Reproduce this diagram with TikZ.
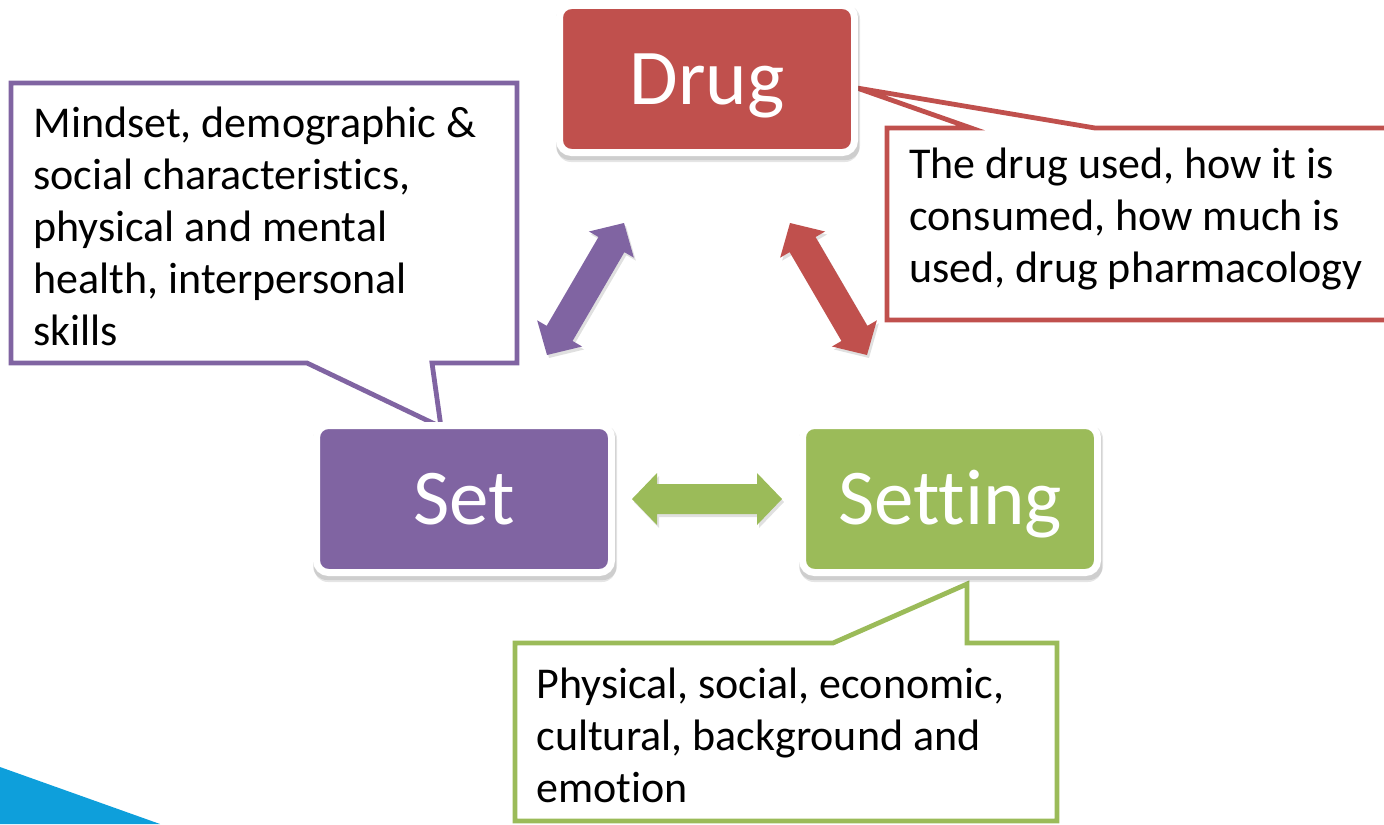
\documentclass[tikz,border=0pt]{standalone}
\usepackage{fontspec}
\setmainfont{Carlito}[Ligatures={NoCommon}]
\usetikzlibrary{calc}
\definecolor{cred}{HTML}{C0504D}
\definecolor{cpurple}{HTML}{8064A2}
\definecolor{cgreen}{HTML}{9BBB59}
\definecolor{cblue}{HTML}{0E9FDB}
\tikzset{
  box/.style={rounded corners=6pt, draw=white, line width=3.5pt, minimum width=147.5pt,
    minimum height=73.5pt, inner sep=0pt, text=white, font=\fontsize{39.5}{46}\selectfont,
    text height=25.4pt, text depth=0pt},
  boxshadow/.style={rounded corners=7pt, fill=black, opacity=0.10},
  callout/.style={line width=2.4pt, fill=white, line join=miter},
  ctext/.style={anchor=north west, inner sep=0pt, align=left, font=\fontsize{22}{26}\selectfont},
}
\newcommand{\dblarrow}[3]{%
\fill[#3] (#1) -- ($(#1)!12.5pt!(#2)!13pt!90:(#2)$) -- ($(#1)!12.5pt!(#2)!7.5pt!90:(#2)$)
 -- ($(#2)!12.5pt!(#1)!7.5pt!-90:(#1)$) -- ($(#2)!12.5pt!(#1)!13pt!-90:(#1)$) -- (#2)
 -- ($(#2)!12.5pt!(#1)!13pt!90:(#1)$) -- ($(#2)!12.5pt!(#1)!7.5pt!90:(#1)$)
 -- ($(#1)!12.5pt!(#2)!7.5pt!-90:(#2)$) -- ($(#1)!12.5pt!(#2)!13pt!-90:(#2)$) -- cycle;}
\begin{document}
\begin{tikzpicture}[x=0.5pt,y=-0.5pt]
\path[use as bounding box] (0,0) rectangle (1384,824);
\clip (0,0) rectangle (1384,824);
% box centres
\coordinate (cdrug) at (707,79);
\coordinate (cset) at (464,499);
\coordinate (csetting) at (950,499);
% blue corner shape
\fill[cblue] (0,767) -- (160,824) -- (0,824) -- cycle;
% callouts
\coordinate (tipset) at (441,427);
\coordinate (tipdrug) at (857,88);
\coordinate (tipsetting) at (967,584);
\draw[callout, draw=cpurple] (11,83) -- (517,83) -- (517,363) -- (432,363) -- (tipset)
  -- (307,363) -- (11,363) -- cycle;
\draw[callout, draw=cred] (887,128) -- (971,128) -- (tipdrug) -- (1095,128) -- (1400,128)
  -- (1400,320) -- (887,320) -- cycle;
\draw[callout, draw=cgreen] (515,643) -- (833,643) -- (tipsetting) -- (967,643) -- (1057,643)
  -- (1057,821) -- (515,821) -- cycle;
\node[ctext] (tset) at (33,103) {\rule{0pt}{17pt}Mindset, demographic \&\\social characteristics,\\physical and mental\\health, interpersonal\\skills};
\node[ctext] (tdrug) at (909,144) {\rule{0pt}{17pt}The drug used, how it is\\consumed, how much is\\used, drug pharmacology};
\node[ctext] (tsetting) at (536,664) {\rule{0pt}{17pt}Physical, social, economic,\\cultural, background and\\emotion};
% arrow end points
\coordinate (ga) at (632,499); \coordinate (gb) at (782,499);
\coordinate (pa) at (547,355); \coordinate (pb) at (624,223);
\coordinate (ra) at (790,223); \coordinate (rb) at (867,355);
% arrow shadows
\begin{scope}[transform canvas={shift={(1pt,-1.5pt)}}]
\dblarrow{ga}{gb}{black,opacity=0.12}
\dblarrow{pa}{pb}{black,opacity=0.12}
\dblarrow{ra}{rb}{black,opacity=0.12}
\end{scope}
\dblarrow{ga}{gb}{cgreen}
\dblarrow{pa}{pb}{cpurple}
\dblarrow{ra}{rb}{cred}
% box shadows
\foreach \c in {cdrug,cset,csetting}{
  \fill[boxshadow] ($(\c)+(-150,-73)$) rectangle ($(\c)+(152,83)$);
  \fill[boxshadow] ($(\c)+(-151,-74)$) rectangle ($(\c)+(153,81)$);
}
% boxes
\node[box, fill=cred] (drug) at (cdrug) {Drug};
\node[box, fill=cpurple] (set) at (cset) {Set};
\node[box, fill=cgreen] (setting) at (csetting) {Setting};
\end{tikzpicture}
\end{document}
